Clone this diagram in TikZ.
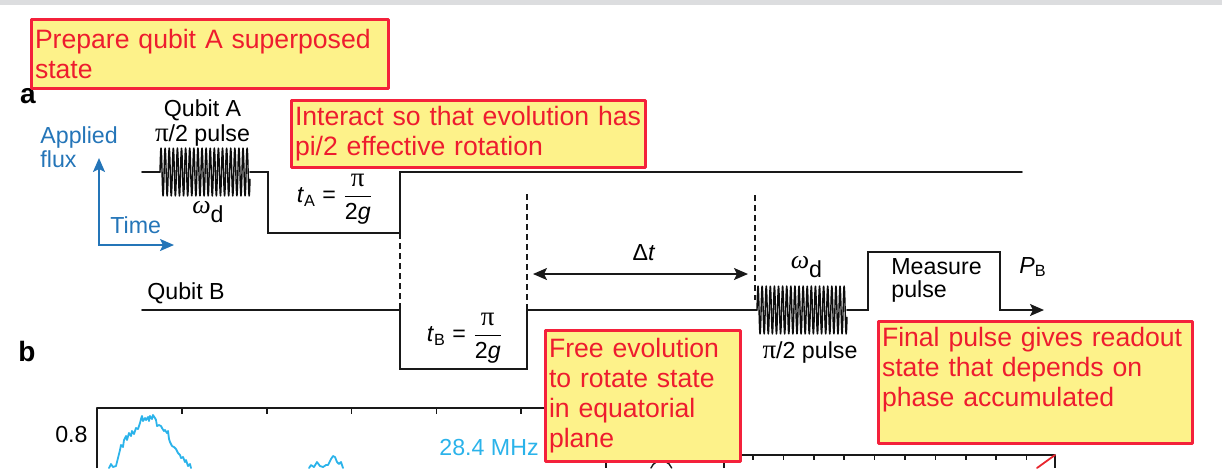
\documentclass[tikz,border=0pt]{standalone}
\usepackage{amsmath}
\usepackage{fontspec}
\setmainfont{Liberation Sans}
\newfontfamily\grk{Liberation Serif}
\usetikzlibrary{arrows.meta,positioning}
\definecolor{notered}{HTML}{F4213B}
\definecolor{notetext}{HTML}{EE1C2E}
\definecolor{notefill}{HTML}{FDF28A}
\definecolor{fluxblue}{HTML}{2475B8}
\definecolor{plotcyan}{HTML}{2BB3EA}
\definecolor{bandgray}{HTML}{DCDDDF}
\definecolor{cornerred}{HTML}{E8262E}
\newcommand{\bigpi}{{\fontsize{13.5}{13.5}\grk π}}
\tikzset{
every picture/.style={line cap=round,line join=round},
>={Stealth[length=7pt,width=6pt,inset=1.5pt]},
note box/.style={
  draw=notered,
  fill=notefill,
  line width=1.5pt,
  text=notetext,
  font=\fontsize{13.3}{15}\selectfont,
  align=left,
  anchor=north west,
  inner xsep=2pt,
  inner ysep=0pt
},
pulse line/.style={draw=black!90, line width=0.85pt, line join=miter},
wave line/.style={draw=black!95, line width=0.7pt},
guide dashed/.style={draw=black!90, line width=0.8pt, line cap=butt, dash pattern=on 3pt off 2pt},
fig label/.style={font=\fontsize{11.6}{11.2}\selectfont, text=black, inner sep=0pt},
flux label/.style={fig label, text=fluxblue, font=\fontsize{11.6}{12}\selectfont},
flux axis/.style={draw=fluxblue, line width=1pt, line join=miter},
panel label/.style={font=\fontsize{14}{14}\bfseries\selectfont, inner sep=0pt},
plot axis/.style={draw=black!90, line width=0.8pt, line cap=butt},
plot curve/.style={draw=plotcyan, line width=0.9pt}
}
\begin{document}
\begin{tikzpicture}[x=0.5pt,y=-0.5pt]
\useasboundingbox (0,0) rectangle (1222,468);
\fill[bandgray] (0,0) rectangle (1222,5);

% panel b (cut off)
\draw[plot axis] (97,468) -- (97,408) -- (606,408) -- (606,468);
\foreach \i in {0,...,4} {\draw[plot axis] ({182+84.8*\i},408) -- ({182+84.8*\i},414);}
\draw[plot axis] (724,468) -- (724,455) -- (1055,455) -- (1055,468);
\foreach \i in {0,...,9} {\draw[plot axis] ({753+30.4*\i},455) -- ({753+30.4*\i},460);}
\draw[cornerred, line width=0.9pt] (1055,455) -- (1037,468);
\draw[black!90, line width=0.7pt] (651,468) arc[start angle=200,end angle=340,radius=11];
\draw[plot curve] (109,468) -- (111,464) -- (113,467) -- (116,466) -- (118,458) -- (120,450) -- (121,445) -- (123,447) -- (124,440) -- (126,436) -- (127,440) -- (129,433) -- (131,436) -- (132,431) -- (134,434) -- (136,428) -- (138,429) -- (140,423) -- (141,419) -- (142,416) -- (143,421) -- (145,418) -- (146,420) -- (148,417) -- (149,421) -- (150,416) -- (152,419) -- (153,415) -- (155,418) -- (156,420) -- (157,426) -- (159,425) -- (161,426) -- (162,428) -- (164,431) -- (165,430) -- (167,433) -- (168,431) -- (169,439) -- (170,442) -- (172,446) -- (174,447) -- (176,449) -- (178,453) -- (180,455) -- (181,458) -- (183,457) -- (185,462) -- (186,460) -- (188,466) -- (190,464) -- (191,468);
\draw[plot curve] (309,468) -- (311,465) -- (314,467) -- (317,462) -- (320,466) -- (323,467) -- (326,465) -- (328,465) -- (331,459) -- (333,456) -- (335,457) -- (337,462) -- (339,464) -- (341,462) -- (343,468);
\node[panel label] (pb) at (27,361) [anchor=base] {b};
\node[fig label, anchor=base east] (yval) at (88,442) {0.8};
\node[fig label, anchor=base west, text=plotcyan] (freq) at (439,455) {28.4 MHz};

% panel a
\node[panel label] (pa) at (28,103) [anchor=base] {a};
\node[flux label, anchor=base west, align=left] (flux) at (40,167) {Applied\\flux};
\coordinate (fluxtop) at (99,158);
\coordinate (timeend) at (174,245);
\draw[flux axis, <->] (fluxtop) |- (timeend);
\node[flux label, anchor=base west] (time) at (110,233) {Time};

% qubit A
\draw[pulse line] (142,172) -- (160,172);
\draw[wave line] plot[domain=0:90,samples=450] ({160+\x},{172-24*sin(\x/4.1*360)});
\draw[pulse line] (250,172) -- (268,172) -- (268,233) -- (400,233) -- (400,172) -- (1022,172);
\node[fig label, anchor=base, align=center, font=\fontsize{11.6}{12.2}\selectfont] (qa) at (202.5,141) {Qubit A\\\bigpi/2 pulse};
\node[fig label, anchor=base] (wa) at (208,222) {\raisebox{4.5pt}{\fontsize{13}{13}\grk\itshape ω}d};
\node[fig label] (ta) at (335,199) {\textit{t}\textsubscript{A} = $\dfrac{\text{\bigpi}}{\text{2\textit{g}}}$};

% qubit B
\draw[pulse line] (142,310) -- (400,310) -- (400,369) -- (527,369) -- (527,310) -- (757,310);
\draw[wave line] plot[domain=0:90,samples=450] ({757+\x},{310-24*sin(\x/4.1*360)});
\draw[pulse line, ->] (847,310) -- (868,310) -- (868,252) -- (1000,252) -- (1000,310) -- (1044,310);
\node[fig label, anchor=base] (qb) at (186,299) {Qubit B};
\node[fig label] (tb) at (465,338) {\textit{t}\textsubscript{B} = $\dfrac{\text{\bigpi}}{\text{2\textit{g}}}$};
\node[fig label, anchor=base] (wb) at (806.5,277) {\raisebox{4.5pt}{\fontsize{13}{13}\grk\itshape ω}d};
\node[fig label, anchor=base] (pb2) at (810,358) {\bigpi/2 pulse};
\node[fig label, anchor=base west, align=left] (meas) at (891,297) {Measure\\pulse};
\node[fig label, anchor=base west] (prob) at (1019,273) {\textit{P}\textsubscript{B}};

% guides and delay
\draw[guide dashed] (400,233) -- (400,310);
\draw[guide dashed] (527,194) -- (527,310);
\draw[guide dashed] (755,195) -- (755,300);
\coordinate (dtl) at (533,274);
\coordinate (dtr) at (748,274);
\draw[pulse line, <->] (dtl) -- (dtr);
\node[fig label, anchor=base] (dt) at (644,260) {Δ\textit{t}};

% notes
\node[note box, minimum width=178.5pt, minimum height=34.5pt, text width=174.5pt] (prep) at (29.5,17.5) {Prepare qubit A superposed\\state};
\node[note box, minimum width=177pt, minimum height=33.5pt, text width=173pt] (inter) at (289.5,98.5) {Interact so that evolution has\\pi/2 effective rotation};
\node[note box, minimum width=97.5pt, minimum height=65.5pt, text width=93.5pt] (free) at (543.5,328.5) {Free evolution\\to rotate state\\in equatorial\\plane};
\node[note box, minimum width=157pt, minimum height=61pt, text width=153pt] (final) at (876.5,319.5) {Final pulse gives readout\\state that depends on\\phase accumulated\\\mbox{}};
\end{tikzpicture}
\end{document}
